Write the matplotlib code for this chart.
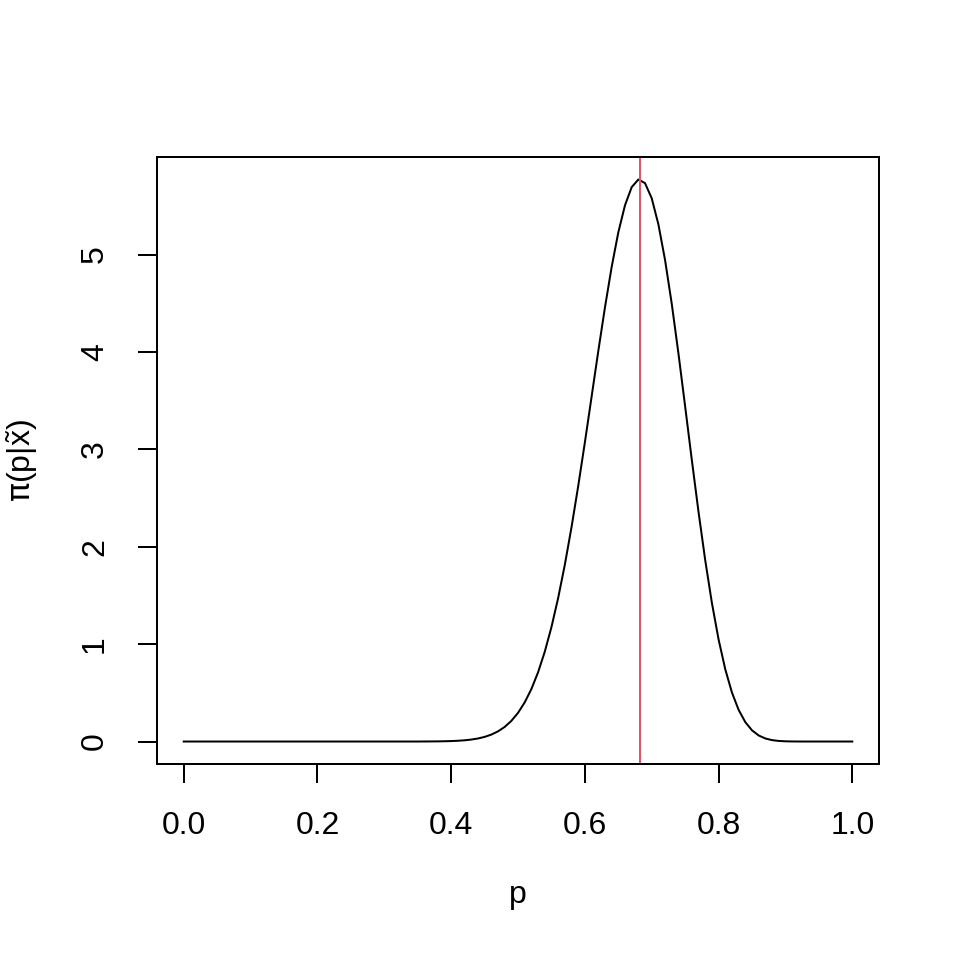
import numpy as np
import matplotlib
matplotlib.use('Agg')
import matplotlib.pyplot as plt

plt.rcParams['font.family'] = ['Liberation Sans', 'DejaVu Sans']
plt.rcParams['mathtext.fontset'] = 'custom'
plt.rcParams['mathtext.rm'] = 'Liberation Sans'
plt.rcParams['mathtext.it'] = 'Liberation Sans'
plt.rcParams['mathtext.bf'] = 'Liberation Sans:bold'
plt.rcParams['mathtext.sf'] = 'DejaVu Sans'
plt.rcParams['mathtext.fallback'] = 'stixsans'

# grid of p values (step 0.01) and posterior density
p_grid = [i / 100 for i in range(101)]
density_mid = [
    0.0005, 0.0009, 0.0016, 0.0028,                    # 0.36 - 0.39
    0.0047, 0.0078, 0.0126, 0.0200, 0.0310, 0.0473,    # 0.40 - 0.45
    0.0708, 0.1039, 0.1496, 0.2117,                    # 0.46 - 0.49
    0.2940, 0.4015, 0.5385, 0.7103, 0.9208, 1.1739,    # 0.50 - 0.55
    1.4715, 1.8138, 2.1984, 2.6203,                    # 0.56 - 0.59
    3.0697, 3.5365, 4.0041, 4.4545, 4.8687, 5.2264,    # 0.60 - 0.65
    5.5054, 5.6918, 5.7709, 5.7335,                    # 0.66 - 0.69
    5.5785, 5.3107, 4.9432, 4.4939, 3.9841, 3.4420,    # 0.70 - 0.75
    2.8913, 2.3592, 1.8645, 1.4246,                    # 0.76 - 0.79
    1.0494, 0.7429, 0.5035, 0.3254, 0.1994, 0.1152,    # 0.80 - 0.85
    0.0623, 0.0312, 0.0144, 0.0060,                    # 0.86 - 0.89
    0.0022, 0.0007, 0.0002,                            # 0.90 - 0.92
]
density = [0.0] * 36 + density_mid + [0.0] * 8

p_hat = 0.682  # red vertical line

x_ticks = [0.0, 0.2, 0.4, 0.6, 0.8, 1.0]
x_tick_labels = ['0.0', '0.2', '0.4', '0.6', '0.8', '1.0']
y_ticks = [0, 1, 2, 3, 4, 5]
y_tick_labels = ['0', '1', '2', '3', '4', '5']

fig = plt.figure(figsize=(9.6, 9.6), dpi=100)
ax = fig.add_axes([157 / 960, 1 - 764 / 960, 722 / 960, 607 / 960])

lw = 1.44
ax.plot(p_grid, density, color='black', lw=lw)
ax.axvline(p_hat, color='#DF536B', lw=lw)

ax.set_xlim(-0.04, 1.04)
ax.set_ylim(-0.2308, 6.002)

ax.set_xticks(x_ticks)
ax.set_xticklabels(x_tick_labels)
ax.set_yticks(y_ticks)
ax.set_yticklabels(y_tick_labels, rotation=90, va='center')

for s in ax.spines.values():
    s.set_linewidth(lw)

ax.tick_params(axis='both', direction='out', length=13.8, width=lw,
               labelsize=23, color='black')
ax.tick_params(axis='x', pad=20)
ax.tick_params(axis='y', pad=20)

ax.set_xlabel('p', fontsize=23)
ax.set_ylabel(r'$\mathsf{π}\mathrm{(p|\tilde{x})}$', fontsize=23)
ax.xaxis.set_label_coords(0.5, (764 - 895) / 607)
ax.xaxis.label.set_va('center')
ax.yaxis.set_label_coords((22 - 157) / 722, 0.5)
ax.yaxis.label.set_va('center')

fig.savefig('out.png', dpi=100)
